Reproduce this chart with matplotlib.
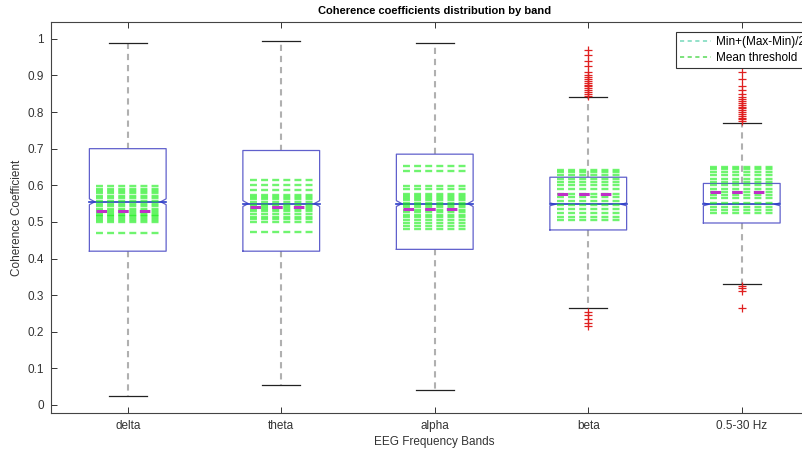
import matplotlib
matplotlib.use('Agg')
import matplotlib.pyplot as plt
from matplotlib.lines import Line2D
import numpy as np

plt.rcParams['font.family'] = ['Liberation Sans', 'DejaVu Sans']
plt.rcParams['lines.scale_dashes'] = False

# ---------------- data ----------------
bands = ['delta', 'theta', 'alpha', 'beta', '0.5-30 Hz']
q1 = [0.420, 0.420, 0.425, 0.478, 0.497]
q3 = [0.700, 0.695, 0.685, 0.622, 0.605]
medians = [0.555, 0.550, 0.550, 0.548, 0.548]
notch_lo = [0.547, 0.542, 0.542, 0.544, 0.544]
notch_hi = [0.563, 0.558, 0.558, 0.552, 0.552]
whisker_low = [0.025, 0.055, 0.040, 0.265, 0.330]
whisker_high = [0.990, 0.995, 0.990, 0.840, 0.770]
outliers_delta = []
outliers_theta = []
outliers_alpha = []
outliers_beta = [0.845, 0.850, 0.855, 0.860, 0.865, 0.870, 0.875, 0.880, 0.885,
                 0.890, 0.895, 0.900, 0.910, 0.925, 0.940, 0.955, 0.970,
                 0.255, 0.245, 0.235, 0.225, 0.215]
outliers_full = [0.775, 0.780, 0.785, 0.790, 0.795, 0.800, 0.805, 0.810, 0.815,
                 0.820, 0.825, 0.830, 0.835, 0.840, 0.850, 0.860, 0.870,
                 0.890, 0.910, 0.325, 0.320, 0.310, 0.265]
outliers = [outliers_delta, outliers_theta, outliers_alpha, outliers_beta, outliers_full]

thr_delta = [0.598, 0.590, 0.585, 0.578, 0.572, 0.565, 0.558, 0.550, 0.543,
             0.536, 0.530, 0.525, 0.520, 0.515, 0.510, 0.505, 0.500, 0.470]
thr_theta = [0.615, 0.602, 0.587, 0.573, 0.568, 0.562, 0.555, 0.547, 0.540,
             0.535, 0.529, 0.522, 0.514, 0.507, 0.500, 0.473]
thr_alpha = [0.652, 0.638, 0.598, 0.590, 0.575, 0.570, 0.565, 0.560, 0.552,
             0.545, 0.540, 0.533, 0.527, 0.520, 0.513, 0.505, 0.498, 0.490, 0.480]
thr_beta = [0.642, 0.636, 0.629, 0.618, 0.609, 0.600, 0.591, 0.576, 0.567,
            0.558, 0.547, 0.536, 0.525, 0.514, 0.505]
thr_full = [0.651, 0.644, 0.637, 0.628, 0.618, 0.609, 0.600, 0.589, 0.582,
            0.573, 0.564, 0.551, 0.540, 0.533, 0.525]
thresholds = [thr_delta, thr_theta, thr_alpha, thr_beta, thr_full]
mean_thresholds = [0.530, 0.540, 0.535, 0.576, 0.582]

legend_labels = ['Min+(Max-Min)/2', 'Mean threshold']
yticks = [0, 0.1, 0.2, 0.3, 0.4, 0.5, 0.6, 0.7, 0.8, 0.9, 1]
ytick_labels = ['0', '0.1', '0.2', '0.3', '0.4', '0.5', '0.6', '0.7', '0.8', '0.9', '1']

# ---------------- figure ----------------
W, H = 803, 450
fig = plt.figure(figsize=(W / 100, H / 100), dpi=100)
ax = fig.add_axes([51 / W, 1 - 413 / H, 767.5 / W, (413 - 22) / H])

positions = np.arange(1, len(bands) + 1)
box_w = 0.5
notch_depth = 0.035
box_color = '#6060cc'

stats = []
for i in range(len(bands)):
    stats.append(dict(med=medians[i], q1=q1[i], q3=q3[i],
                      whislo=whisker_low[i], whishi=whisker_high[i],
                      fliers=outliers[i], cilo=notch_lo[i], cihi=notch_hi[i]))

ax.bxp(stats, positions=positions, widths=box_w, showbox=False,
       whiskerprops=dict(color='#b0b0b0', linewidth=1.5, linestyle=(0, (4.5, 3.5))),
       capprops=dict(color='#222222', linewidth=0.9),
       flierprops=dict(marker='+', markeredgecolor='#e02020', markersize=5.5,
                       markeredgewidth=0.9, linestyle='none'),
       medianprops=dict(visible=False), manage_ticks=False)

# notched boxes
for i, p in enumerate(positions):
    l, r = p - box_w / 2, p + box_w / 2
    xs = [l, r, r, r - notch_depth, r, r, l, l, l + notch_depth, l, l]
    ys = [q1[i], q1[i], notch_lo[i], medians[i], notch_hi[i], q3[i], q3[i],
          notch_hi[i], medians[i], notch_lo[i], q1[i]]
    ax.plot(xs, ys, color=box_color, linewidth=0.9, zorder=3)
    ax.plot([l, r], [medians[i], medians[i]], color='#2a3cc8', linewidth=1.2, zorder=4)

# threshold dashed lines
half = 0.205
for i, p in enumerate(positions):
    for lev in thresholds[i]:
        ax.plot([p - half, p + half], [lev, lev], color='#10ee10', alpha=0.6,
                linewidth=1.7, linestyle=(0, (5.0, 3.0)), zorder=5)
    ax.plot([p - half, p + half], [mean_thresholds[i]] * 2, color='#c030c8',
            linewidth=2.2, linestyle=(0, (7.6, 8.0)), zorder=6)

ax.set_xlim(0.5, len(bands) + 0.5)
ax.set_ylim(-0.022, 1.046)
ax.set_xticks(positions)
ax.set_xticklabels(bands, fontsize=8.5, color='#333333')
ax.set_yticks(yticks)
ax.set_yticklabels(ytick_labels, fontsize=8.5, color='#333333')
ax.tick_params(direction='in', top=True, right=True, length=4, width=0.7,
               color='#333333', pad=5)
for s in ax.spines.values():
    s.set_color('#444444')
    s.set_linewidth(0.8)

ax.set_title('Coherence coefficients distribution by band', fontsize=8,
             fontweight='bold', pad=6)
ax.set_xlabel('EEG Frequency Bands', fontsize=8.5, color='#333333', labelpad=3)
ax.set_ylabel('Coherence Coefficient', fontsize=8.5, color='#333333', labelpad=3)

handles = [Line2D([], [], color='#80dcc0', linewidth=1.2, linestyle=(0, (3, 2.5))),
           Line2D([], [], color='#66dd66', linewidth=1.2, linestyle=(0, (3, 2.5)))]
leg = fig.legend(handles, legend_labels, loc='upper left',
                 bbox_to_anchor=(676 / W, 1 - 32 / H), bbox_transform=fig.transFigure,
                 fontsize=8.5, frameon=True, fancybox=False, framealpha=1,
                 edgecolor='#333333', borderaxespad=0, handlelength=2.6,
                 handletextpad=0.4, borderpad=0.35, labelspacing=0.3)
leg.get_frame().set_linewidth(0.8)

fig.savefig('out.png', dpi=100)
